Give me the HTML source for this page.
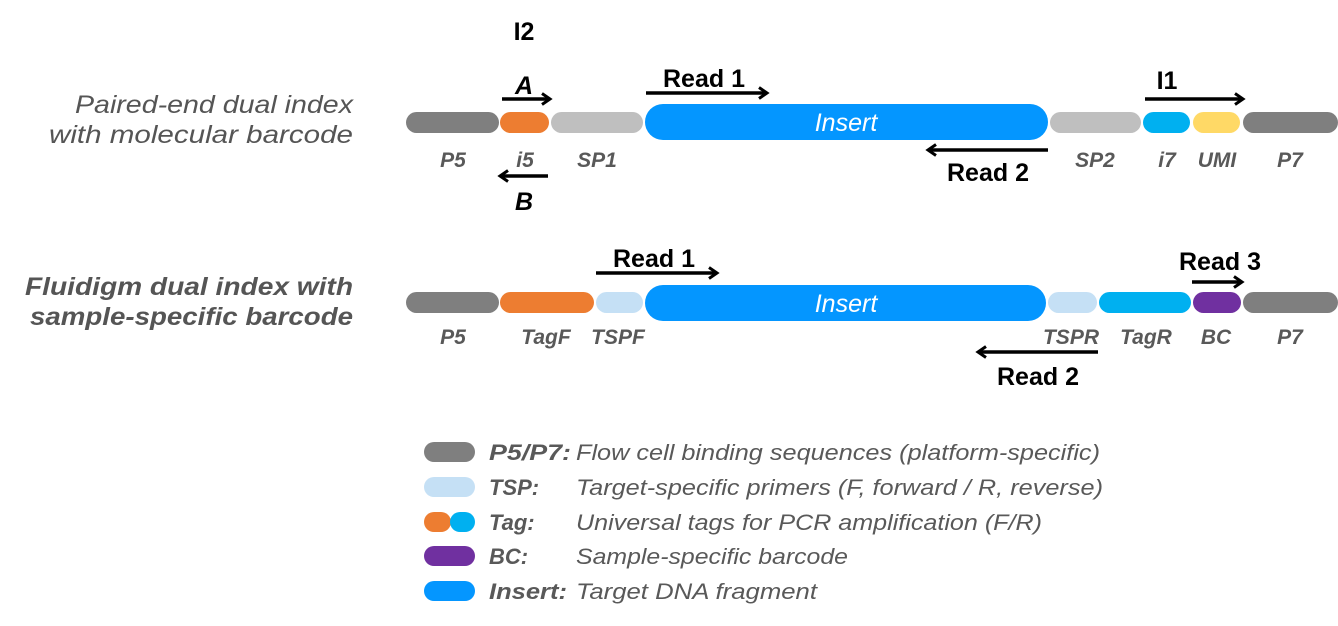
<!DOCTYPE html>
<html><head><style>
html,body{margin:0;padding:0;background:#fff;width:1338px;height:626px;overflow:hidden}
text{font-family:"Liberation Sans",sans-serif}
</style></head><body>
<svg width="1338" height="626" viewBox="0 0 1338 626" xmlns="http://www.w3.org/2000/svg">
<defs><marker id="ah" markerWidth="14" markerHeight="14" refX="9" refY="7" orient="auto" markerUnits="userSpaceOnUse"><path d="M2,1.5 L10,7 L2,12.5" fill="none" stroke="#000" stroke-width="3"/></marker></defs>
<g fill="#555" font-style="italic" font-size="25" text-anchor="end">
<text x="353" y="113" textLength="278" lengthAdjust="spacingAndGlyphs">Paired-end dual index</text>
<text x="353" y="143" textLength="304" lengthAdjust="spacingAndGlyphs">with molecular barcode</text>
<text x="353" y="295" font-weight="bold" textLength="328" lengthAdjust="spacingAndGlyphs">Fluidigm dual index with</text>
<text x="353" y="325" font-weight="bold" textLength="323" lengthAdjust="spacingAndGlyphs">sample-specific barcode</text>
</g>
<!-- row 1 -->
<rect x="406" y="112" width="93" height="21" rx="10.5" fill="#7f7f7f"/>
<rect x="500" y="112" width="49" height="21" rx="10.5" fill="#ed7d31"/>
<rect x="551" y="112" width="92" height="21" rx="10.5" fill="#bfbfbf"/>
<rect x="645" y="104" width="403" height="36" rx="18" fill="#0496ff"/>
<rect x="1050" y="112" width="91" height="21" rx="10.5" fill="#bfbfbf"/>
<rect x="1143" y="112" width="47" height="21" rx="10.5" fill="#00b0f0"/>
<rect x="1193" y="112" width="47" height="21" rx="10.5" fill="#ffd966"/>
<rect x="1243" y="112" width="95" height="21" rx="10.5" fill="#7f7f7f"/>
<text x="846" y="131" fill="#fff" font-size="25" font-style="italic" text-anchor="middle">Insert</text>
<g fill="#595959" font-size="21" font-style="italic" font-weight="bold" text-anchor="middle">
<text x="453" y="167">P5</text><text x="525" y="167">i5</text><text x="597" y="167">SP1</text>
<text x="1095" y="167">SP2</text><text x="1167" y="167">i7</text><text x="1217" y="167">UMI</text><text x="1290" y="167">P7</text>
</g>
<g stroke="#000" stroke-width="3.5" marker-end="url(#ah)">
<line x1="502" y1="99" x2="549" y2="99"/>
<line x1="548" y1="176" x2="501" y2="176"/>
<line x1="646" y1="93" x2="766" y2="93"/>
<line x1="1048" y1="150" x2="929" y2="150"/>
<line x1="1145" y1="99" x2="1242" y2="99"/>
</g>
<g font-size="25" font-weight="bold" fill="#000" text-anchor="middle">
<text x="524" y="40">I2</text>
<text x="524" y="94" font-style="italic">A</text>
<text x="524" y="210" font-style="italic">B</text>
<text x="704" y="87">Read 1</text>
<text x="988" y="181">Read 2</text>
<text x="1167" y="89">I1</text>
</g>
<!-- row 2 -->
<rect x="406" y="292" width="93" height="21" rx="10.5" fill="#7f7f7f"/>
<rect x="500" y="292" width="94" height="21" rx="10.5" fill="#ed7d31"/>
<rect x="596" y="292" width="47" height="21" rx="10.5" fill="#c5e0f5"/>
<rect x="645" y="285" width="401" height="36" rx="18" fill="#0496ff"/>
<rect x="1048" y="292" width="49" height="21" rx="10.5" fill="#c5e0f5"/>
<rect x="1099" y="292" width="92" height="21" rx="10.5" fill="#00b0f0"/>
<rect x="1193" y="292" width="48" height="21" rx="10.5" fill="#7030a0"/>
<rect x="1243" y="292" width="95" height="21" rx="10.5" fill="#7f7f7f"/>
<text x="846" y="312" fill="#fff" font-size="25" font-style="italic" text-anchor="middle">Insert</text>
<g fill="#595959" font-size="21" font-style="italic" font-weight="bold" text-anchor="middle">
<text x="453" y="344">P5</text><text x="546" y="344">TagF</text><text x="618" y="344">TSPF</text>
<text x="1071" y="344">TSPR</text><text x="1146" y="344">TagR</text><text x="1216" y="344">BC</text><text x="1290" y="344">P7</text>
</g>
<g stroke="#000" stroke-width="3.5" marker-end="url(#ah)">
<line x1="596" y1="273" x2="716" y2="273"/>
<line x1="1192" y1="282" x2="1241" y2="282"/>
<line x1="1098" y1="352" x2="979" y2="352"/>
</g>
<g font-size="25" font-weight="bold" fill="#000" text-anchor="middle">
<text x="654" y="267">Read 1</text>
<text x="1220" y="270">Read 3</text>
<text x="1038" y="385">Read 2</text>
</g>
<!-- legend -->
<rect x="424" y="442" width="51" height="20" rx="10" fill="#7f7f7f"/>
<rect x="424" y="477" width="51" height="20" rx="10" fill="#c5e0f5"/>
<rect x="424" y="512" width="27" height="20" rx="10" fill="#ed7d31"/>
<rect x="450" y="512" width="25" height="20" rx="10" fill="#00b0f0"/>
<rect x="424" y="546" width="51" height="20" rx="10" fill="#7030a0"/>
<rect x="424" y="581" width="51" height="20" rx="10" fill="#0496ff"/>
<g fill="#595959" font-size="22" font-style="italic">
<text x="489" y="460" font-weight="bold" textLength="82" lengthAdjust="spacingAndGlyphs">P5/P7:</text><text x="576" y="460" textLength="524" lengthAdjust="spacingAndGlyphs">Flow cell binding sequences (platform-specific)</text>
<text x="489" y="495" font-weight="bold">TSP:</text><text x="576" y="495" textLength="527" lengthAdjust="spacingAndGlyphs">Target-specific primers (F, forward / R, reverse)</text>
<text x="489" y="530" font-weight="bold">Tag:</text><text x="576" y="530" textLength="466" lengthAdjust="spacingAndGlyphs">Universal tags for PCR amplification (F/R)</text>
<text x="489" y="564" font-weight="bold">BC:</text><text x="576" y="564" textLength="272" lengthAdjust="spacingAndGlyphs">Sample-specific barcode</text>
<text x="489" y="599" font-weight="bold" textLength="78" lengthAdjust="spacingAndGlyphs">Insert:</text><text x="576" y="599" textLength="241" lengthAdjust="spacingAndGlyphs">Target DNA fragment</text>
</g>
</svg>
</body></html>
